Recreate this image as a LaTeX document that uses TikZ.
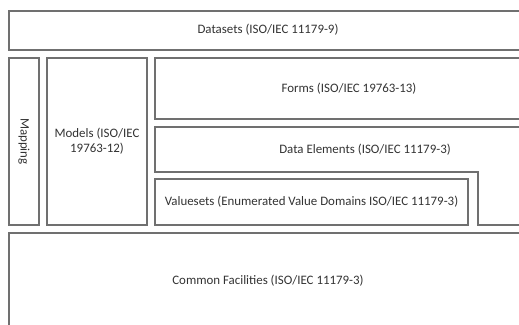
\documentclass[tikz,border=0pt]{standalone}
\usepackage{fontspec}
\setmainfont{Carlito}
\begin{document}
\begin{tikzpicture}[x=1pt,y=-1pt,
  frame/.style={draw=boxgray,line width=1.2pt},
  lbl/.style={text=txtgray,font=\fontsize{12.9}{15}\selectfont,inner sep=0pt,align=center}]
\definecolor{boxgray}{HTML}{707070}
\definecolor{txtgray}{HTML}{333333}
\useasboundingbox (0,0) rectangle (519,324);
\fill[white] (0,0) rectangle (519,324);
\clip (0,0) rectangle (519,324);
% layers of the registry stack
\draw[frame] (9,11) rectangle (540,50);
\draw[frame] (9,58) rectangle (39,225);
\draw[frame] (47,58) rectangle (147,225);
\draw[frame] (155,58) rectangle (540,119);
\draw[frame] (540,127) -- (155,127) -- (155,172) -- (478,172) -- (478,225) -- (540,225);
\draw[frame] (155,179) rectangle (468,225);
\draw[frame] (540,233) -- (9,233) -- (9,340);
% labels
\node[lbl] (datasets) at (268,30) {Datasets (ISO/IEC 11179-9)};
\node[lbl,rotate=-90] (mapping) at (24,141.5) {Mapping};
\node[lbl] (models) at (97,141.5) {Models (ISO/IEC\\19763-12)};
\node[lbl] (forms) at (349,88.5) {Forms (ISO/IEC 19763-13)};
\node[lbl] (dataelements) at (365,150) {Data Elements (ISO/IEC 11179-3)};
\node[lbl] (valuesets) at (311.5,202) {Valuesets (Enumerated Value Domains ISO/IEC 11179-3)};
\node[lbl] (common) at (268,281) {Common Facilities (ISO/IEC 11179-3)};
\end{tikzpicture}
\end{document}
